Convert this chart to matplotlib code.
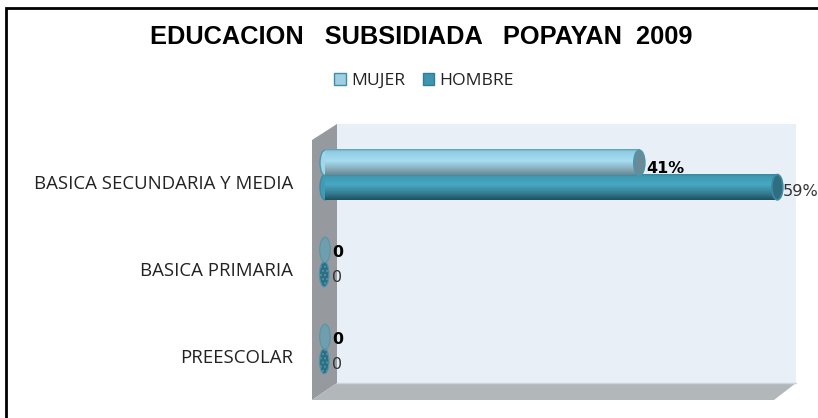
import numpy as np
import matplotlib
matplotlib.use('Agg')
import matplotlib.pyplot as plt
from matplotlib.colors import LinearSegmentedColormap
from matplotlib.patches import Ellipse, Polygon, Patch
from matplotlib.transforms import ScaledTranslation

categorias = ['BASICA SECUNDARIA Y MEDIA', 'BASICA PRIMARIA', 'PREESCOLAR']
mujer = [0.41, 0, 0]
hombre = [0.59, 0, 0]

W, H = 818, 418
fig = plt.figure(figsize=(W / 100, H / 100), dpi=100)

# Fondo: marco y paredes 3D, en pixeles de la imagen
bg = fig.add_axes([0, 0, 1, 1])
bg.set_xlim(0, W)
bg.set_ylim(H, 0)
bg.axis('off')
bg.add_patch(Polygon([(337, 124), (796, 124), (796, 383), (337, 383)], fc='#e8eff7', ec='none'))
bg.add_patch(Polygon([(312, 140), (337, 124), (337, 383), (312, 400)], fc='#96999d', ec='none'))
bg.add_patch(Polygon([(337, 383), (796, 383), (774, 400), (312, 400)], fc='#b2b7ba', ec='none'))
bg.plot([337, 796], [383, 383], color='#cdd3d8', lw=1)
bg.plot([6, 6, 818], [418, 8, 8], color='black', lw=2, solid_joinstyle='miter')

# Ejes de datos: 0 en x=325 px, 767 px por unidad
ax = fig.add_axes([325 / W, 1 - 392.5 / H, 460 / W, 261 / H])
ax.patch.set_alpha(0)
for s in ax.spines.values():
    s.set_visible(False)
ax.set_xticks([])

alto = 0.29
offs = 0.14
cap = 5 / 767 * 2

cm_m = LinearSegmentedColormap.from_list('m', [(0, '#5a9fb5'), (0.08, '#8fcbe0'), (0.45, '#a6ddf2'),
                                               (0.8, '#84a8b5'), (1, '#6b8793')])
cm_h = LinearSegmentedColormap.from_list('h', [(0, '#348aa2'), (0.1, '#3f9ab3'), (0.4, '#48a8c3'),
                                               (0.75, '#347c90'), (1, '#20505f')])
grad = np.linspace(0, 1, 64).reshape(-1, 1)


def dibuja_serie(valores, desplaz, cmap, color, tapa, borde, nombre, peso):
    ys = np.arange(len(valores)) + desplaz
    ax.barh(ys, valores, height=alto, color='none', edgecolor='none', label=nombre)
    for y, v in zip(ys, valores):
        if v > 0:
            ax.imshow(grad, cmap=cmap, aspect='auto', zorder=2,
                      extent=(0, v, y + alto / 2, y - alto / 2))
            ax.add_patch(Ellipse((0, y), cap, alto, fc=cmap(0.5), ec=borde, lw=1, zorder=1.9, clip_on=False))
            ax.add_patch(Ellipse((v, y), cap * 1.1, alto, fc=tapa, ec=borde, lw=1.2, zorder=3, clip_on=False))
            txt = f'{v:.0%}'
            tx = v + cap * (0.7 if peso == 'bold' else 0.5)
            fs = 11.4 if peso == 'bold' else 11.6
            dy = 0.06 if peso == 'bold' else 0.05
        else:
            if peso == 'bold':
                ax.add_patch(Ellipse((0, y), cap * 1.05, alto, fc='#6a9fb0', ec='#4a96ad', lw=0.8, alpha=0.85,
                                     zorder=3, clip_on=False))
            else:
                ax.add_patch(Ellipse((-0.001, y), cap * 0.95, alto, fc=tapa, ec='#4a96ad', lw=0.8,
                                     hatch='....', zorder=3, clip_on=False))
            txt = '0'
            tx = cap * 0.75
            fs = 11.4
            dy = 0.035
        ax.text(tx, y + dy, txt, fontsize=fs, fontweight=peso,
                color='black' if peso == 'bold' else '#333333', ha='left', va='center',
                family='DejaVu Sans', clip_on=False, zorder=4)


# Hombre primero: la barra de mujer queda encima
dibuja_serie(hombre, offs, cm_h, '#48a8c3', '#2e6e80', '#3a8ba3', 'HOMBRE', 'normal')
dibuja_serie(mujer, -offs, cm_m, '#a6ddf2', '#6a8a98', '#4a96ad', 'MUJER', 'bold')

ax.set_xlim(0, 0.6)
ax.set_ylim(2.5, -0.5)
ax.set_yticks(range(len(categorias)))
ax.set_yticklabels(categorias, family='Open Sans', fontsize=13.4, color='#222222')
ax.tick_params(axis='y', length=0, pad=23)
baja = ScaledTranslation(0, -7 / 100, fig.dpi_scale_trans)
for lab in ax.get_yticklabels():
    lab.set_transform(lab.get_transform() + baja)

fig.text(421 / W, 1 - 37 / H, 'EDUCACION   SUBSIDIADA   POPAYAN  2009', family='Liberation Sans',
         fontweight='bold', fontsize=18.3, ha='center', va='center', color='black')

handles = [Patch(fc='#9fcfe0', ec='#3f8ea6', label='MUJER'), Patch(fc='#3f95ad', ec='#2f7f95', label='HOMBRE')]
fig.legend(handles=handles, ncol=2, frameon=False, loc='center', bbox_to_anchor=(424 / W, 1 - 81 / H),
           prop={'family': 'Open Sans', 'size': 12.6}, handlelength=0.68, handleheight=0.68,
           handletextpad=0.3, columnspacing=1.0, labelcolor='#222222')

fig.savefig('out.png', dpi=100)
